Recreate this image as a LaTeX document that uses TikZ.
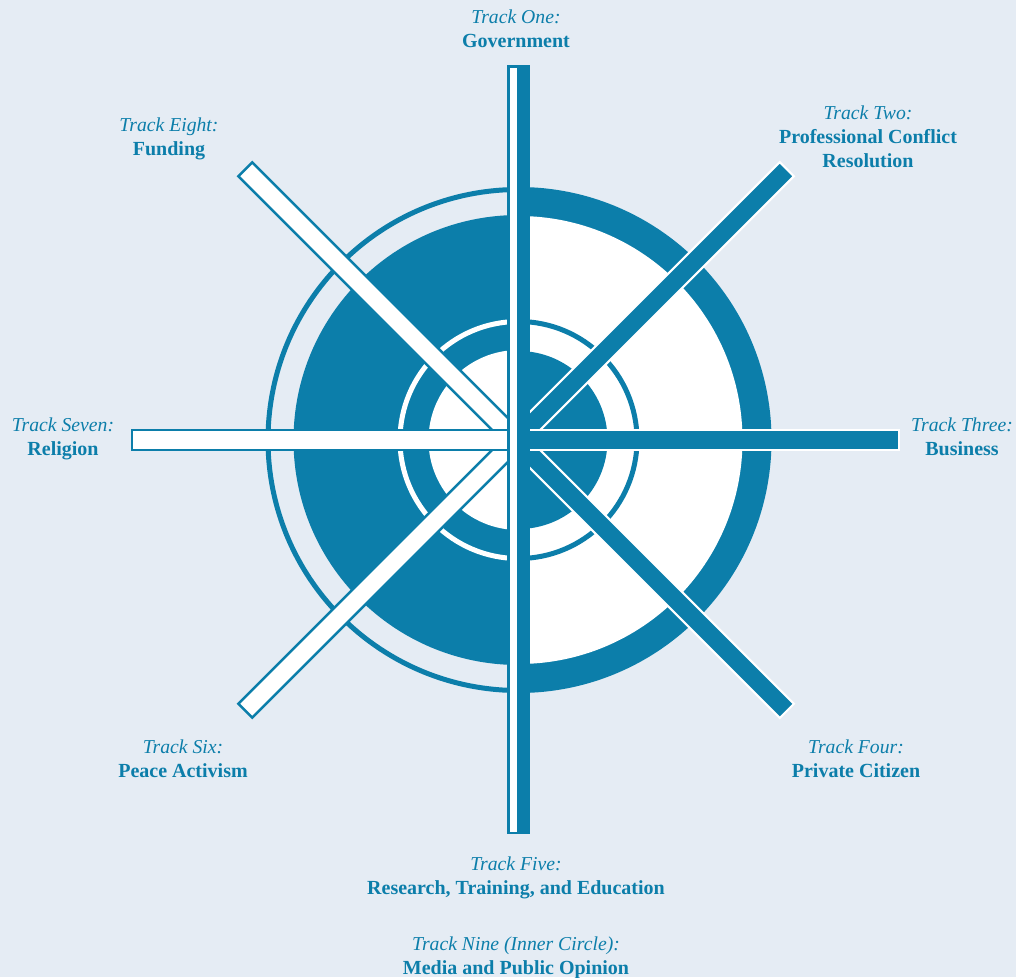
\documentclass[tikz,border=0pt]{standalone}
\usepackage{fontspec}
\setmainfont{Liberation Serif}
\definecolor{trackblue}{RGB}{12,126,170}
\definecolor{paper}{RGB}{229,236,244}

\begin{document}
\begin{tikzpicture}[x=1pt,y=-1pt,
  lighttrack/.style={fill=white, draw=trackblue, line width=2.4pt, line join=miter},
  darktrack/.style={fill=trackblue, draw=white, line width=2pt, line join=miter},
  tracklabel/.style={font=\fontsize{19.7}{24}\selectfont\itshape, text=trackblue, anchor=base, inner sep=0pt, yshift=-1pt},
  trackname/.style={font=\fontsize{20}{24}\selectfont\bfseries, text=trackblue, anchor=base, inner sep=0pt, yshift=-1pt}]

% page
\fill[paper] (0,0) rectangle (1016,977);
\useasboundingbox (0,0) rectangle (1016,977);
\coordinate (hub) at (518.5,440);

% left half of the rings
\begin{scope}
  \clip (0,0) rectangle (518.5,977);
  \draw[trackblue, line width=5pt] (hub) circle[radius=250.5pt];
  \fill[trackblue] (hub) circle[radius=225pt];
  \draw[white, line width=5pt] (hub) circle[radius=118.5pt];
  \fill[white] (hub) circle[radius=90pt];
\end{scope}

% right half of the rings, colours inverted
\begin{scope}
  \clip (518.5,0) rectangle (1016,977);
  \fill[trackblue] (hub) circle[radius=253pt];
  \fill[white] (hub) circle[radius=224pt];
  \draw[trackblue, line width=5pt] (hub) circle[radius=118.5pt];
  \fill[trackblue] (hub) circle[radius=89pt];
\end{scope}

% diagonal spokes
\begin{scope}[shift={(516,440)}]
  \draw[lighttrack, rotate=135] (0,-9.8) -- (382.8,-9.8) -- (382.8,9.8) -- (0,9.8) -- cycle;
  \draw[lighttrack, rotate=225] (0,-9.8) -- (382.8,-9.8) -- (382.8,9.8) -- (0,9.8) -- cycle;
  \draw[darktrack, rotate=45] (0,-10) -- (383,-10) -- (383,10) -- (0,10) -- cycle;
  \draw[darktrack, rotate=-45] (0,-10) -- (383,-10) -- (383,10) -- (0,10) -- cycle;
  % horizontal spokes
  \draw[lighttrack] (2.5,-9.8) -- (-383.8,-9.8) -- (-383.8,9.8) -- (2.5,9.8) -- cycle;
  \draw[darktrack] (2.5,-10) -- (383,-10) -- (383,10) -- (2.5,10) -- cycle;
\end{scope}

% vertical spoke: outlined white half on the left, solid half on the right
\fill[trackblue] (507,65) rectangle (530,834);
\fill[white] (509.5,67.5) rectangle (516.5,831.5);

% labels
\node[tracklabel] (one-a) at (516,22.7) {Track One:};
\node[trackname]  (one-b) at (516,46.7) {Government};

\node[tracklabel] (two-a) at (868,118) {Track Two:};
\node[trackname]  (two-b) at (868,142) {Professional Conflict};
\node[trackname]  (two-c) at (868,166) {Resolution};

\node[tracklabel] (three-a) at (962,430) {Track Three:};
\node[trackname]  (three-b) at (962,454) {Business};

\node[tracklabel] (four-a) at (856,752) {Track Four:};
\node[trackname]  (four-b) at (856,776) {Private Citizen};

\node[tracklabel] (five-a) at (516,869) {Track Five:};
\node[trackname]  (five-b) at (516,893) {Research, Training, and Education};

\node[tracklabel] (six-a) at (183,752) {Track Six:};
\node[trackname]  (six-b) at (183,776) {Peace Activism};

\node[tracklabel] (seven-a) at (63,430) {Track Seven:};
\node[trackname]  (seven-b) at (63,454) {Religion};

\node[tracklabel] (eight-a) at (169,130) {Track Eight:};
\node[trackname]  (eight-b) at (169,154) {Funding};

\node[tracklabel] (nine-a) at (516,949) {Track Nine (Inner Circle):};
\node[trackname]  (nine-b) at (516,973) {Media and Public Opinion};
\end{tikzpicture}
\end{document}
